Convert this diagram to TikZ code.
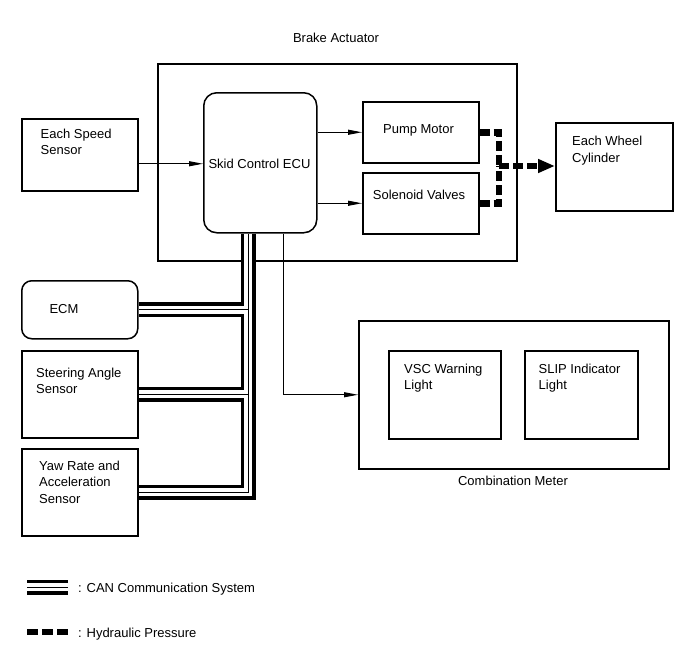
\documentclass[tikz,border=0pt]{standalone}
\usepackage{fontspec}
\setmainfont{Liberation Sans}
\usetikzlibrary{arrows.meta}
\begin{document}
\begin{tikzpicture}[x=1pt,y=-1pt,
  box/.style={draw, line width=1.5pt, inner sep=0pt, anchor=north west},
  rbox/.style={box, rounded corners=12pt},
  txt/.style={font=\fontsize{13}{16.5}\selectfont, inner sep=0pt, align=left},
  ctl/.style={line width=1pt, -{Triangle[length=14pt,width=5pt]}},
  hyd/.style={line width=6.5pt, dash pattern=on 10pt off 4pt, line join=miter},
  can/.style={line width=15pt, line join=miter,
    postaction={draw=white, line width=8pt},
    postaction={draw=black, line width=1pt}},
]
\useasboundingbox (0,0) rectangle (690,659);

% boxes
\node[box, minimum width=359pt, minimum height=197pt] (act) at (157,63) {};
\node[rbox, rounded corners=13pt, minimum width=113pt, minimum height=140pt] (ecu) at (203,92) {};
\node[box, minimum width=116pt, minimum height=61pt] (pump) at (362,101) {};
\node[box, minimum width=116pt, minimum height=61pt] (sol) at (362,172) {};
\node[box, minimum width=116pt, minimum height=72pt] (speed) at (21,118) {};
\node[box, minimum width=117pt, minimum height=88pt] (wheel) at (555,122) {};
\node[rbox, rounded corners=10pt, minimum width=116pt, minimum height=58pt] (ecm) at (21,280) {};
\node[box, minimum width=116pt, minimum height=87pt] (steer) at (21,350) {};
\node[box, minimum width=116pt, minimum height=87pt] (yaw) at (21,448) {};
\node[box, minimum width=310pt, minimum height=148pt] (meter) at (358,320) {};
\node[box, minimum width=112pt, minimum height=88pt] (vsc) at (388,350) {};
\node[box, minimum width=113pt, minimum height=88pt] (slip) at (524,350) {};

% texts
\node[txt, anchor=base] (actt) at (336,42) {Brake Actuator};
\node[txt, anchor=base] (ecut) at (259.5,168) {Skid Control ECU};
\node[txt, anchor=base] (pumpt) at (418.5,133) {Pump Motor};
\node[txt, anchor=base] (solt) at (419,199) {Solenoid Valves};
\node[txt, anchor=north west] (speedt) at (40.5,128.5) {Each Speed\\Sensor};
\node[txt, anchor=north west] (wheelt) at (572,136) {Each Wheel\\Cylinder};
\node[txt, anchor=base] (ecmt) at (64,313) {ECM};
\node[txt, anchor=north west] (steert) at (36,367.4) {Steering Angle\\Sensor};
\node[txt, anchor=north west] (yawt) at (39,460.5) {Yaw Rate and\\Acceleration\\Sensor};
\node[txt, anchor=north west] (vsct) at (404,363.5) {VSC Warning\\Light};
\node[txt, anchor=north west] (slipt) at (538.5,363.5) {SLIP Indicator\\Light};
\node[txt, anchor=base] (metert) at (513,485) {Combination Meter};

% control lines
\draw[ctl] ([yshift=-9pt]speed.east) -- ([yshift=-9pt]speed.east -| ecu.west);
\draw[ctl] (pump.west -| ecu.east) -- (pump.west);
\draw[ctl] (sol.west -| ecu.east) -- (sol.west);
\draw[ctl] ([xshift=23.5pt]ecu.south) |- (meter.west);

% hydraulic
\coordinate (hj) at (499,166);
\draw[hyd] (pump.east) -| (hj);
\draw[hyd] (sol.east) -| (hj);
\draw[hyd, -{Triangle[length=17pt,width=13pt]}] (hj) -- (hj -| wheel.west);

% CAN
\coordinate (ct) at ([xshift=-12pt]ecu.south);
\draw[can] (ct) |- (yaw.east) (ecm.east -| ct) -- (ecm.east) (steer.east -| ct) -- (steer.east);

% legend
\coordinate (cl1) at (27,587);
\coordinate (cl2) at (68,587);
\draw[can] (cl1) -- (cl2);
\node[txt, anchor=base west] (cant) at (78,592) {: CAN Communication System};
\coordinate (hl1) at (27,632);
\coordinate (hl2) at (69,632);
\draw[line width=5.5pt, dash pattern=on 11pt off 4pt] (hl1) -- (hl2);
\node[txt, anchor=base west] (hydt) at (78,637) {: Hydraulic Pressure};
\end{tikzpicture}
\end{document}
